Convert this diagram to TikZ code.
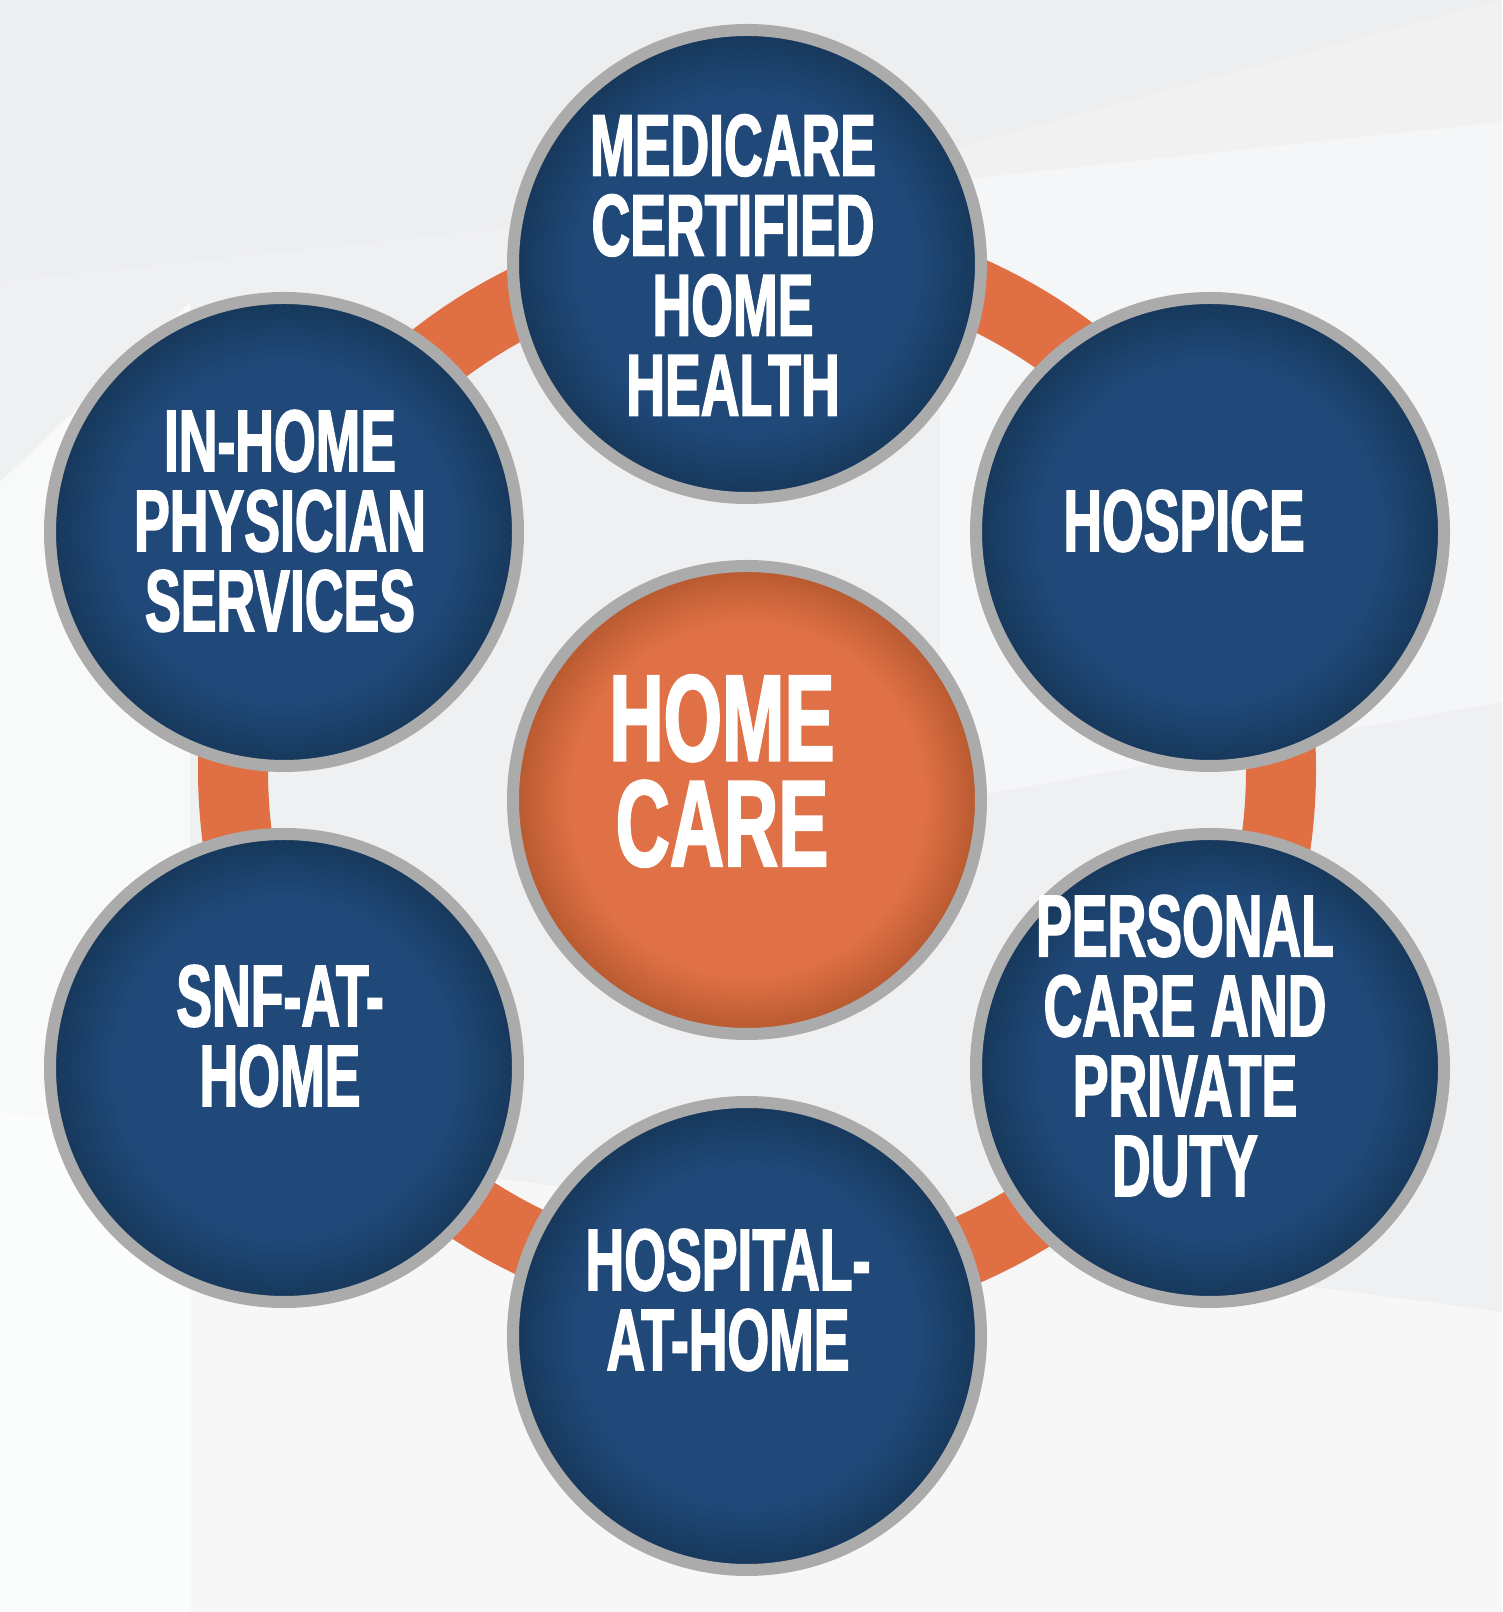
\documentclass[tikz,border=0pt]{standalone}
\usepackage{fontspec}
\newfontfamily\condfont{Liberation Sans}[FakeStretch=0.61, FakeBold=1.6]
\usetikzlibrary{positioning}

\definecolor{navyin}{HTML}{20497A}
\definecolor{navyout}{HTML}{163759}
\definecolor{hubin}{HTML}{E07045}
\definecolor{hubout}{HTML}{B5582F}
\definecolor{rimgray}{HTML}{ABABAB}
\definecolor{bggray}{HTML}{EFF0F2}
\definecolor{ringorange}{HTML}{E07044}

\pgfdeclareradialshading{navydisc}{\pgfpoint{0bp}{0bp}}{color(0bp)=(navyin); color(18bp)=(navyin); color(25bp)=(navyout); color(50bp)=(navyout)}
\pgfdeclareradialshading{hubdisc}{\pgfpoint{0bp}{0bp}}{color(0bp)=(hubin); color(19bp)=(hubin); color(25bp)=(hubout); color(50bp)=(hubout)}

\tikzset{
  disc/.style={circle, minimum size=9.36cm, inner sep=0pt, draw=rimgray, line width=0.24cm},
  service/.style={disc, shading=navydisc},
  hubdisk/.style={disc, shading=hubdisc},
  svctext/.style={text=white, align=center, inner sep=0pt, font=\condfont\bfseries\fontsize{50}{45.5}\selectfont},
  hubtext/.style={text=white, align=center, inner sep=0pt, font=\condfont\bfseries\fontsize{70}{60}\selectfont},
  ringline/.style={draw=ringorange, line width=1.4cm}
}

\begin{document}
\begin{tikzpicture}[node distance=2cm, on grid]
  \useasboundingbox (0,0) rectangle (30.04,32.24);
  % background
  \fill[bggray] (0,0) rectangle (30.04,32.24);
  \fill[white, opacity=.6] (0,22.6) -- (3.8,26.2) -- (3.8,0) -- (0,0) -- cycle;
  \fill[white, opacity=.4] (18.8,29.2) -- (30.04,32.24) -- (30.04,18.2) -- (18.8,16.2) -- cycle;
  \fill[white, opacity=.5] (0,10) -- (30.04,6) -- (30.04,0) -- (0,0) -- cycle;
  \fill[black!8, opacity=.4] (0,32.24) -- (30.04,32.24) -- (30.04,29.8) -- (0,26.6) -- cycle;

  \coordinate (ringc) at (15.14,16.84);
  \draw[ringline] (ringc) circle (10.48cm);

  \node[hubdisk] (hub) at (14.94,16.24) {};
  \node[service, above=10.72cm of hub] (medi) {};
  \node[service, above right=5.36cm and 9.26cm of hub] (hospice) {};
  \node[service, below right=5.36cm and 9.26cm of hub] (personal) {};
  \node[service, below=10.72cm of hub] (hospital) {};
  \node[service, below left=5.36cm and 9.26cm of hub] (snf) {};
  \node[service, above left=5.36cm and 9.26cm of hub] (physician) {};

  \node[hubtext] (hubl) at ([shift={(-0.50,0.58)}]hub) {HOME\\CARE};
  \node[svctext] (medil) at ([shift={(-0.28,-0.02)}]medi) {MEDICARE\\CERTIFIED\\HOME\\HEALTH};
  \node[svctext] (hospicel) at ([shift={(-0.52,0.22)}]hospice) {HOSPICE};
  \node[svctext] (personall) at ([shift={(-0.50,0.44)}]personal) {PERSONAL\\CARE AND\\PRIVATE\\DUTY};
  \node[svctext] (hospitall) at ([shift={(-0.38,0.72)}]hospital) {HOSPITAL-\\AT-HOME};
  \node[svctext] (snfl) at ([shift={(-0.08,0.64)}]snf) {SNF-AT-\\HOME};
  \node[svctext] (physicianl) at ([shift={(-0.08,0.22)}]physician) {IN-HOME\\PHYSICIAN\\SERVICES};
\end{tikzpicture}
\end{document}
